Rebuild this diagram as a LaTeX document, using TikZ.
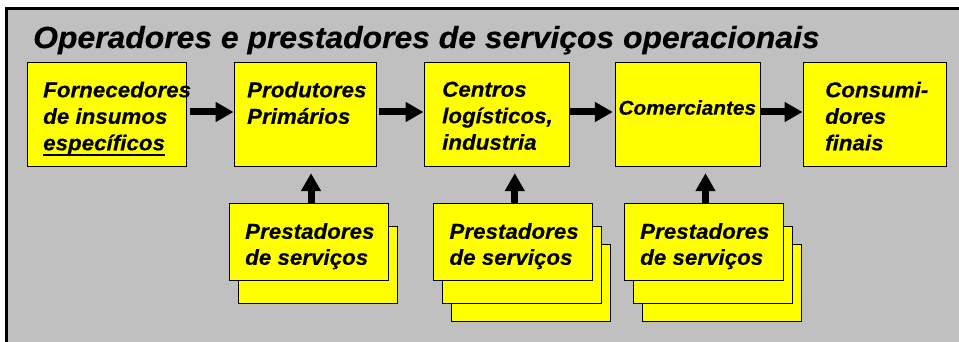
\documentclass[tikz,border=0pt]{standalone}
\usepackage{fontspec}
\setmainfont{Liberation Sans}
\newfontfamily\fontetitulo[FakeStretch=1.045, FakeBold=0.4]{Liberation Sans}
\newfontfamily\fontecaixa[FakeStretch=1.04, FakeBold=0.4]{Liberation Sans}
\usetikzlibrary{positioning}
\usetikzlibrary{arrows.meta}

\newsavebox{\caixatexto}
\newcommand{\sublinhado}[1]{\sbox{\caixatexto}{#1}\rlap{\rule[-6pt]{\wd\caixatexto}{2pt}}\usebox{\caixatexto}}

\definecolor{fundo}{RGB}{192,192,192}
\definecolor{amarelo}{RGB}{255,255,0}

\tikzset{
	caixa/.style={fill=amarelo, draw=black, line width=0.9pt, minimum height=104pt, inner sep=0pt},
	prestador/.style={fill=amarelo, draw=black, line width=0.9pt, minimum width=159pt, minimum height=77pt, inner sep=0pt},
	rotulo/.style={anchor=north west, inner sep=0pt, align=left, font=\fontecaixa\fontsize{21.5}{26.5}\selectfont\bfseries\itshape},
	seta/.style={line width=7pt, -{Triangle[width=19pt,length=18pt]}}
}

\begin{document}
\begin{tikzpicture}[x=1pt,y=-1pt]
					\useasboundingbox (0,0) rectangle (959,342);
					%Fundo
					\fill[fundo] (5,7) rectangle (959,342);
					\draw[line width=3pt] (959,8.5) -- (6.5,8.5) -- (6.5,342);
					\node[anchor=base west, inner sep=0pt, font=\fontetitulo\fontsize{30.5}{34}\selectfont\bfseries\itshape] (titulo) at (33,48) {Operadores e prestadores de serviços operacionais};

					%Nodes
					\node[caixa, minimum width=159pt] (b1) at (106.7,114) {};
					\node[caixa, minimum width=142pt] (b2) at (305,114) {};
					\node[caixa, minimum width=145pt] (b3) at (496.5,114) {};
					\node[caixa, minimum width=145pt] (b4) at (687.8,114) {};
					\node[caixa, minimum width=143pt] (b5) at (874.5,114) {};

					\node[rotulo] (t1) at (43,81.5) {Fornecedores\\de insumos\\\sublinhado{específicos}};
					\node[rotulo] (t2) at (247,81.5) {Produtores\\Primários};
					\node[rotulo] (t3) at (442,81.5) {Centros\\logísticos,\\industria};
					\node[rotulo, font=\fontecaixa\fontsize{20}{26}\selectfont\bfseries\itshape] (t4) at (618.3,100) {Comerciantes};
					\node[rotulo] (t5) at (825,81.5) {Consumi-\\dores\\finais};

					%Prestadores
					\node[prestador] (p1b) at (318,265) {};
					\node[prestador] (p1) at (309,242) {};
					\node[rotulo] (s1) at (245,223) {Prestadores\\[-0.5pt]de serviços};

					\node[prestador] (p2c) at (531,282.7) {};
					\node[prestador] (p2b) at (521.8,265) {};
					\node[prestador] (p2) at (512.8,242) {};
					\node[rotulo] (s2) at (449.3,223) {Prestadores\\[-0.5pt]de serviços};

					\node[prestador] (p3c) at (721.5,282.7) {};
					\node[prestador] (p3b) at (712.5,265) {};
					\node[prestador] (p3) at (703.5,242) {};
					\node[rotulo] (s3) at (640,223) {Prestadores\\[-0.5pt]de serviços};

					%Lines
					\draw[seta, shorten <=3pt] ([yshift=2pt]b1.east) -- ([yshift=2pt]b2.west);
					\draw[seta, shorten <=3pt] ([yshift=2pt]b2.east) -- ([yshift=2pt]b3.west);
					\draw[seta, shorten <=1pt, shorten >=2pt] ([yshift=2pt]b3.east) -- ([yshift=2pt]b4.west);
					\draw[seta] ([yshift=2pt]b4.east) -- ([yshift=2pt]b5.west);

					\draw[seta, shorten >=6.7pt] ([xshift=2pt]p1.north) -- ([xshift=2pt]p1.north |- b2.south);
					\draw[seta, shorten >=6.7pt] ([xshift=2pt]p2.north) -- ([xshift=2pt]p2.north |- b3.south);
					\draw[seta, shorten >=6.7pt] ([xshift=2pt]p3.north) -- ([xshift=2pt]p3.north |- b4.south);
\end{tikzpicture}
\end{document}
